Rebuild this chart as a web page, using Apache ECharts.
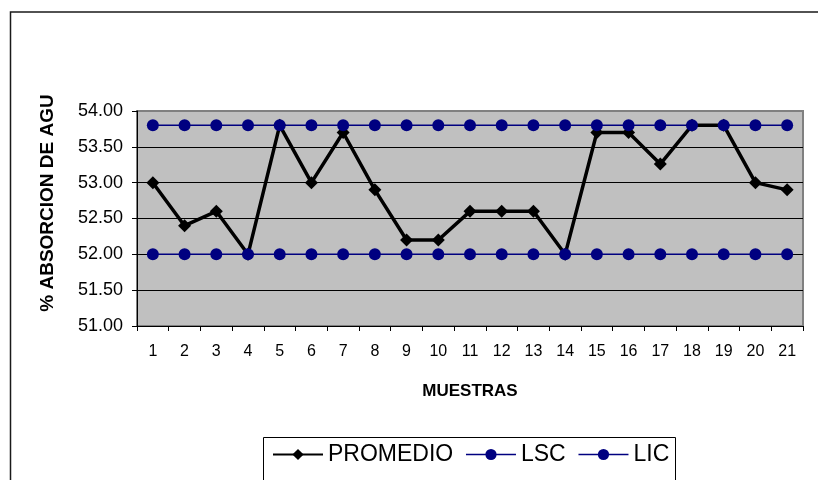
<!DOCTYPE html>
<html>
<head>
<meta charset="utf-8">
<script src="https://cdn.jsdelivr.net/npm/echarts@6/dist/echarts.min.js"></script>
<style>
html,body{margin:0;padding:0;background:#fff;}
#chart{width:818px;height:480px;}
</style>
</head>
<body>
<div id="chart"></div>
<script>
var categories = ['1','2','3','4','5','6','7','8','9','10','11','12','13','14','15','16','17','18','19','20','21'];
var promedio = [53.0, 52.4, 52.6, 52.0, 53.8, 53.0, 53.7, 52.9, 52.2, 52.2, 52.6, 52.6, 52.6, 52.0, 53.7, 53.7, 53.26, 53.8, 53.8, 53.0, 52.9];
var lsc = [53.8, 53.8, 53.8, 53.8, 53.8, 53.8, 53.8, 53.8, 53.8, 53.8, 53.8, 53.8, 53.8, 53.8, 53.8, 53.8, 53.8, 53.8, 53.8, 53.8, 53.8];
var lic = [52.0, 52.0, 52.0, 52.0, 52.0, 52.0, 52.0, 52.0, 52.0, 52.0, 52.0, 52.0, 52.0, 52.0, 52.0, 52.0, 52.0, 52.0, 52.0, 52.0, 52.0];
var yTitle = '% ABSORCION DE AGU';
var xTitle = 'MUESTRAS';

var navy = '#000080';
var font = 'Liberation Sans, Arial, sans-serif';
var chart = echarts.init(document.getElementById('chart'));
chart.setOption({
  animation: false,
  backgroundColor: '#ffffff',
  textStyle: { fontFamily: font },
  grid: {
    left: 137, right: 15, top: 111, bottom: 154,
    show: true, backgroundColor: '#C0C0C0', borderColor: '#808080', borderWidth: 2
  },
  legend: {
    left: 272, top: 443, padding: 0,
    itemWidth: 50, itemHeight: 14, itemGap: 12,
    textStyle: { fontSize: 23, color: '#000', fontFamily: font },
    data: [
      { name: 'PROMEDIO' },
      { name: 'LSC', lineStyle: { color: navy, width: 1.5, opacity: 1 } },
      { name: 'LIC', lineStyle: { color: navy, width: 1.5, opacity: 1 } }
    ]
  },
  xAxis: {
    type: 'category', data: categories, boundaryGap: true,
    axisLine: { lineStyle: { color: '#000', width: 1 } },
    axisTick: { show: true, length: 5, lineStyle: { color: '#000' } },
    axisLabel: { fontSize: 16, color: '#000', margin: 18, fontFamily: font },
    name: xTitle, nameLocation: 'middle', nameGap: 57,
    nameTextStyle: { fontSize: 17, fontWeight: 'bold', color: '#000', fontFamily: font },
    splitLine: { show: false }
  },
  yAxis: {
    type: 'value', min: 51, max: 54, interval: 0.5,
    axisLine: { show: true, lineStyle: { color: '#000', width: 1 } },
    axisTick: { show: true, length: 5, lineStyle: { color: '#000' } },
    axisLabel: { fontSize: 18, color: '#000', margin: 14, fontFamily: font,
      formatter: function (v) { return v.toFixed(2); } },
    splitLine: { show: true, lineStyle: { color: ['#000','#000','#000','#000','#000','#000','#808080'], width: 1 } }
  },
  graphic: [
    { type: 'polyline', shape: { points: [[10.5, 500], [10.5, 12], [830, 12]] },
      style: { stroke: '#1a1a1a', lineWidth: 1.5, fill: null }, silent: true },
    { type: 'rect', shape: { x: 263.5, y: 437.5, width: 412, height: 80 },
      style: { stroke: '#000', lineWidth: 1, fill: null }, silent: true },
    { type: 'text', x: 48, y: 203, rotation: Math.PI / 2,
      style: { text: yTitle, font: 'bold 19px ' + font, fill: '#000', textAlign: 'center', textVerticalAlign: 'middle' } }
  ],
  series: [
    { name: 'LSC_line', type: 'line', data: lsc, z: 1, showSymbol: false, symbol: 'none',
      lineStyle: { color: navy, width: 1.5 }, itemStyle: { color: navy } },
    { name: 'LIC_line', type: 'line', data: lic, z: 1, showSymbol: false, symbol: 'none',
      lineStyle: { color: navy, width: 1.5 }, itemStyle: { color: navy } },
    { name: 'PROMEDIO', type: 'line', data: promedio, z: 2,
      symbol: 'diamond', symbolSize: 13,
      lineStyle: { color: '#000', width: 3.5 }, itemStyle: { color: '#000' } },
    { name: 'LSC', type: 'line', data: lsc, z: 3,
      symbol: 'circle', symbolSize: 12,
      lineStyle: { color: navy, width: 0, opacity: 0 }, itemStyle: { color: navy } },
    { name: 'LIC', type: 'line', data: lic, z: 3,
      symbol: 'circle', symbolSize: 12,
      lineStyle: { color: navy, width: 0, opacity: 0 }, itemStyle: { color: navy } }
  ]
});
</script>
</body>
</html>
